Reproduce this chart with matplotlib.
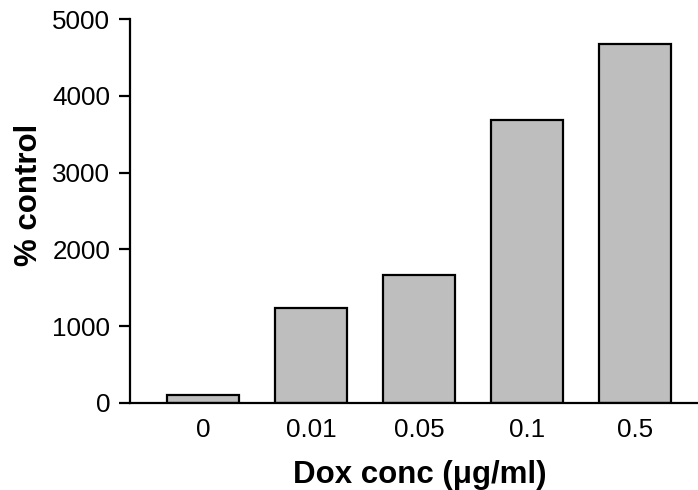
import matplotlib.pyplot as plt

plt.rcParams['font.family'] = ['Liberation Sans', 'DejaVu Sans']

# datos
concentraciones = ["0", "0.01", "0.05", "0.1", "0.5"]
porcentaje_control = [100, 1230, 1660, 3680, 4670]
ticks_y = [0, 1000, 2000, 3000, 4000, 5000]

fig = plt.figure(figsize=(6.98, 4.90), dpi=100)
ax = fig.add_axes([0.186, 0.178, 0.814, 0.783])

posiciones = range(len(concentraciones))
ax.bar(posiciones, porcentaje_control, width=0.667, color="#bebebe",
       edgecolor="black", linewidth=1.6)

ax.set_xlim(-0.676, 4.583)
ax.set_ylim(0, 5000)
ax.set_yticks(ticks_y)
ax.set_xticks(list(posiciones))
ax.set_xticklabels(concentraciones)

# ejes estilo grafico cientifico
for lado in ["top", "right"]:
    ax.spines[lado].set_visible(False)
for lado in ["left", "bottom"]:
    ax.spines[lado].set_linewidth(1.6)

ax.tick_params(axis="y", length=8, width=1.6, labelsize=18.7, pad=6)
ax.tick_params(axis="x", length=0, labelsize=18.7, pad=11)

ax.set_xlabel("Dox conc (\u03bcg/ml)", fontsize=22.5, fontweight="bold")
ax.set_ylabel("% control", fontsize=22.5, fontweight="bold")
ax.xaxis.set_label_coords(0.51, -0.15)
ax.yaxis.set_label_coords(-0.151, 0.542)

fig.savefig("out.png", dpi=100)
plt.close(fig)
